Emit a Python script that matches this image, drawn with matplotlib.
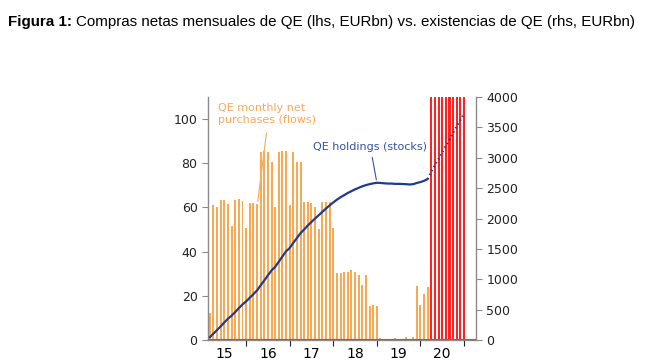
import numpy as np
import matplotlib
matplotlib.use("Agg")
import matplotlib.pyplot as plt

# Compras netas mensuales (EURbn), Feb 2015 - Feb 2020
flows = [12.4,
         61.2, 60.4, 63.4, 63.4, 61.6, 51.8, 63.4, 64.0, 63.0, 50.7,
         62.2, 61.8, 61.6, 85.0, 85.4, 85.0, 80.7, 60.4, 85.0, 85.4, 85.4, 61.2,
         85.0, 80.7, 80.4, 62.6, 62.6, 62.0, 60.4, 50.3, 62.6, 62.6, 62.6, 50.5,
         30.5, 30.5, 31.0, 30.8, 31.9, 31.0, 29.6, 25.0, 29.6, 15.6, 15.8, 15.5,
         1.0, 0.3, 0.3, 0.3, 0.8, 0.3, 0.3, 1.5, 0.3, 1.5, 24.3, 15.9,
         20.9, 23.9]
# proyección Mar 2020 - Dic 2020 (fuera de escala)
proj_flows = [120, 120, 120, 120, 120, 120, 120, 120, 120, 120]

# Existencias de QE (EURbn), Feb 2015 - Feb 2020
stocks = [45, 105, 165, 225, 290, 350, 400, 460, 525, 585, 635,
          695, 755, 815, 900, 980, 1065, 1145, 1205, 1290, 1375, 1460, 1515,
          1600, 1680, 1760, 1820, 1885, 1945, 2000, 2055, 2110, 2165, 2215, 2265,
          2310, 2350, 2385, 2420, 2450, 2480, 2505, 2530, 2550, 2565, 2578, 2588,
          2585, 2580, 2575, 2575, 2570, 2570, 2568, 2565, 2560, 2565, 2585, 2600,
          2620, 2650]
# Feb 2020 - Dic 2020
proj_stocks = [2650, 2770, 2880, 2980, 3090, 3200, 3300, 3410, 3520, 3620, 3730]

years = ["15", "16", "17", "18", "19", "20"]

# posiciones: índice de mes desde Ene 2015
x_flows = np.arange(1, 1 + len(flows))
x_proj = np.arange(x_flows[-1] + 1, x_flows[-1] + 1 + len(proj_flows))
x_stocks = x_flows
x_proj_stocks = np.arange(x_flows[-1], x_flows[-1] + len(proj_stocks))

orange = "#f9a854"
red = "#ff2222"
navy = "#1f3a8f"
grey = "#8a8a8a"

fig = plt.figure(figsize=(6.5, 3.64), dpi=100)
ax = fig.add_axes([208 / 650, 1 - 340 / 364, (476 - 208) / 650, (340 - 97) / 364])
ax2 = ax.twinx()

ax.bar(x_flows, flows, width=0.55, color=orange, linewidth=0)
ax.bar(x_proj, proj_flows, width=0.6, color=red, linewidth=0)
ax.axhline(0.3, color="#e04040", linewidth=0.8, zorder=3)

ax2.plot(x_stocks, stocks, color=navy, linewidth=1.6, solid_capstyle="round")
ax2.plot(x_proj_stocks, proj_stocks, color=navy, linewidth=1.6, linestyle=(0, (0.6, 1.4)))

ax.set_xlim(0.5, 74.3)
ax.set_ylim(0, 110)
ax2.set_ylim(0, 4000)

ax.set_yticks(np.arange(0, 101, 20))
ax2.set_yticks(np.arange(0, 4001, 500))
ax.set_xticks([12 * i - 1 for i in range(1, 7)])
ax.set_xticklabels([])
ax.set_xticks([12 * i + 5 for i in range(6)], minor=True)
ax.set_xticklabels(years, minor=True)
ax.tick_params(axis="x", which="minor", length=0, pad=5)
ax.tick_params(axis="x", which="major", length=4, color=grey)

for a in (ax, ax2):
    a.spines["top"].set_visible(False)
    for s in ("left", "right", "bottom"):
        a.spines[s].set_color(grey)
        a.spines[s].set_linewidth(1.0)
    a.tick_params(labelsize=9, colors="#222222", length=4)
    a.tick_params(axis="y", color=grey)
ax.spines["right"].set_visible(False)
ax2.spines["left"].set_visible(False)
ax2.spines["bottom"].set_visible(False)

ax.text(3.3, 107.5, "QE monthly net\npurchases (flows)", color=orange, fontsize=8,
        va="top", ha="left", linespacing=1.25)
ax.annotate("", xy=(14.1, 61.5), xytext=(16.7, 95),
            arrowprops=dict(arrowstyle="-", color=orange, lw=0.8))

ax2.text(29.4, 3180, "QE holdings (stocks)", color="#3552a0", fontsize=8,
         va="center", ha="left")
ax2.annotate("", xy=(47.0, 2590), xytext=(45.6, 3050),
             arrowprops=dict(arrowstyle="-", color="#3552a0", lw=0.8))

fig.canvas.draw()
r = fig.canvas.get_renderer()
t1 = fig.text(8 / 650, 1 - 22 / 364, "Figura 1:", fontsize=10.9, fontweight="bold",
              family="Liberation Sans", va="center")
bb = t1.get_window_extent(renderer=r)
fig.text(bb.x1 / 650 + 4 / 650, 1 - 22 / 364,
         "Compras netas mensuales de QE (lhs, EURbn) vs. existencias de QE (rhs, EURbn)",
         fontsize=10.9, family="Liberation Sans", va="center")

fig.savefig("out.png", dpi=100)
